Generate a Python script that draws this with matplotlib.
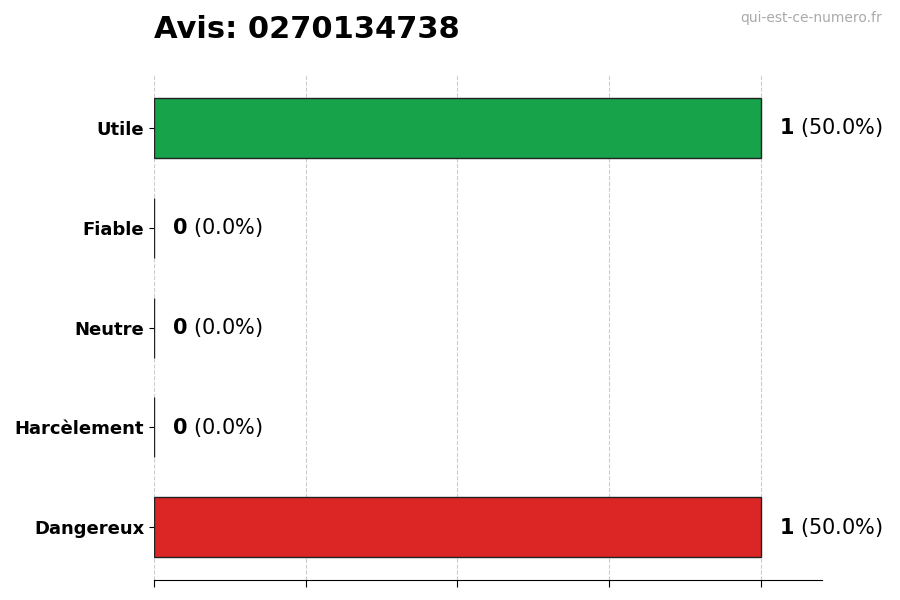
import matplotlib
matplotlib.use("Agg")
import matplotlib.pyplot as plt

categories = ["Utile", "Fiable", "Neutre", "Harcèlement", "Dangereux"]
counts = [1, 0, 0, 0, 1]
percents = [50.0, 0.0, 0.0, 0.0, 50.0]
colors = ["#16a34a", "#2563eb", "#9ca3af", "#f59e0b", "#dc2626"]

fig = plt.figure(figsize=(9, 6), dpi=100)
ax = fig.add_axes([0.171, 0.033, 0.742, 0.842])

ypos = list(range(len(categories)))[::-1]
ax.barh(ypos, counts, height=0.6, color=colors, edgecolor="#222222", linewidth=1)
ax.set_yticks(ypos)
ax.set_yticklabels(categories, fontsize=13, fontweight="bold")
ax.set_ylim(-0.53, 4.53)
ax.set_xlim(0, 1.1)
ax.set_xticks([0, 0.25, 0.5, 0.75, 1.0])
ax.set_xticklabels([])
ax.tick_params(axis="x", length=5)
ax.grid(axis="x", linestyle="--", color="#cccccc", linewidth=0.8)
ax.set_axisbelow(True)
for s in ["top", "right", "left"]:
    ax.spines[s].set_visible(False)

for y, c, p in zip(ypos, counts, percents):
    ax.annotate(f"$\\bf{{{c}}}$ ({p:.1f}%)", xy=(c, y), xytext=(13, 0),
                textcoords="offset points", va="center", ha="left", fontsize=15)

fig.text(0.171, 0.95, "Avis: 0270134738", fontsize=22, fontweight="bold", va="center")
fig.text(0.98, 0.97, "qui-est-ce-numero.fr", fontsize=10, color="#aaaaaa",
         ha="right", va="center")

fig.savefig("out.png", dpi=100)
